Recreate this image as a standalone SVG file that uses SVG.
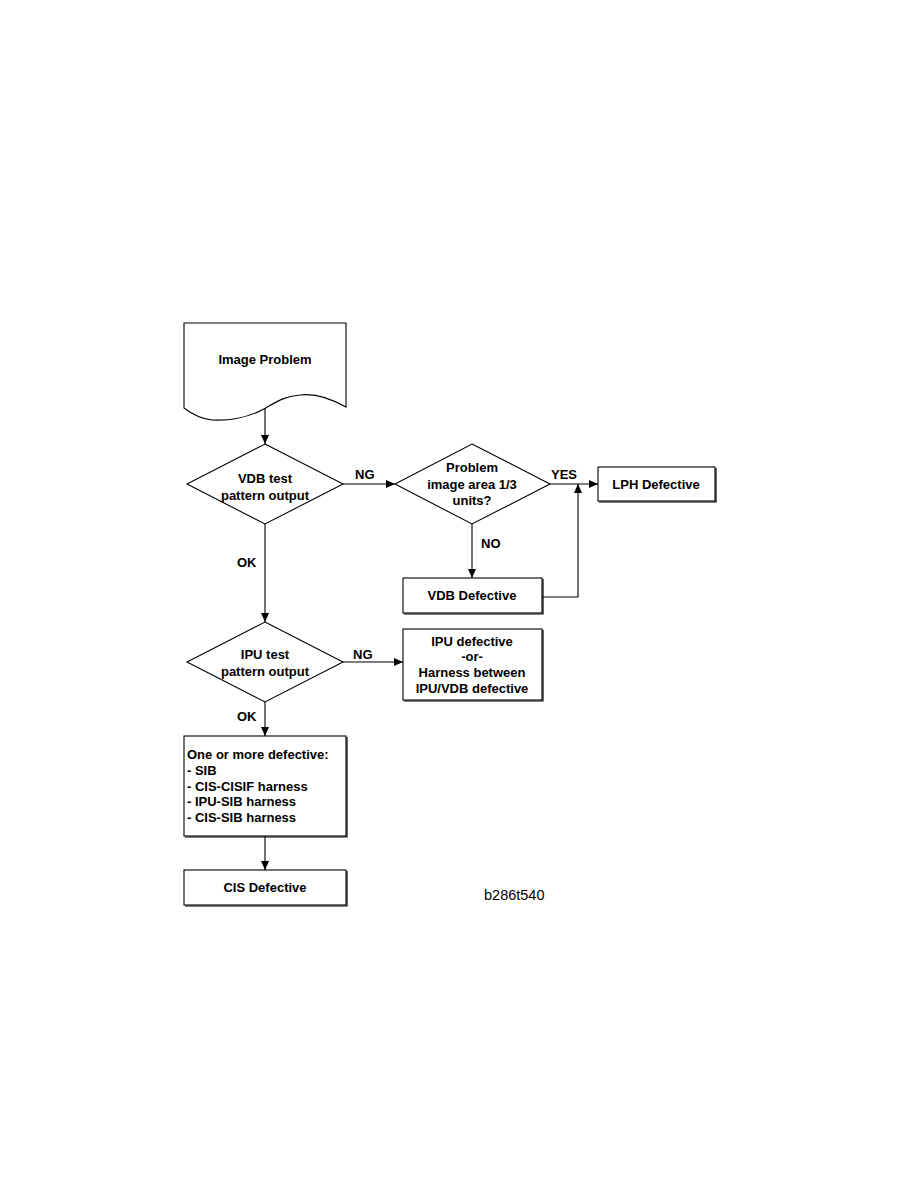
<svg xmlns="http://www.w3.org/2000/svg" width="918" height="1188" viewBox="0 0 918 1188">
<style>
.s{fill:#fff;stroke:#000;stroke-width:1.1}
.sh{fill:none;stroke:#000;stroke-width:1.2}
.c{fill:none;stroke:#000;stroke-width:1.1}
text{font-family:"Liberation Sans",Arial,sans-serif;font-size:13px;font-weight:bold;fill:#000}
.m{text-anchor:middle}
</style>
<defs>
<marker id="a" markerWidth="10" markerHeight="8" refX="9" refY="4" orient="auto" markerUnits="userSpaceOnUse">
<path d="M0,0 L9,4 L0,8 Z" fill="#000"/>
</marker>
</defs>
<rect width="918" height="1188" fill="#fff"/>
<g id="connectors">
<line class="c" x1="265" y1="408" x2="265" y2="444" marker-end="url(#a)"/>
<line class="c" x1="343" y1="484" x2="395" y2="484" marker-end="url(#a)"/>
<line class="c" x1="550" y1="484" x2="598" y2="484" marker-end="url(#a)"/>
<line class="c" x1="472" y1="524" x2="472" y2="578" marker-end="url(#a)"/>
<polyline class="c" points="542,597 578,597 578,484" marker-end="url(#a)"/>
<line class="c" x1="265" y1="524" x2="265" y2="622" marker-end="url(#a)"/>
<line class="c" x1="343" y1="662" x2="403" y2="662" marker-end="url(#a)"/>
<line class="c" x1="265" y1="702" x2="265" y2="736" marker-end="url(#a)"/>
<line class="c" x1="265" y1="836" x2="265" y2="870" marker-end="url(#a)"/>
<text x="355" y="479">NG</text>
<text x="551" y="479">YES</text>
<text x="481" y="548">NO</text>
<text x="237" y="567">OK</text>
<text x="353" y="659">NG</text>
<text x="237" y="721">OK</text>
</g>
<g id="image-problem">
<path class="s" d="M184,323 L346,323 L346,407 C330,398 315,393 300,395 C280,397 272,405 262,410 C248,417 232,421 212,420 C200,419 192,414 184,408 Z"/>
<text class="m" x="265" y="364">Image Problem</text>
</g>
<g id="vdb-test">
<polygon class="s" points="265,444 343,484 265,524 187,484"/>
<text class="m" x="265" y="483">VDB test</text>
<text class="m" x="265" y="500">pattern output</text>
</g>
<g id="problem-area">
<polygon class="s" points="472,444 550,484 472,524 395,484"/>
<text class="m" x="472" y="472">Problem</text>
<text class="m" x="472" y="489">image area 1/3</text>
<text class="m" x="472" y="505">units?</text>
</g>
<g id="lph-defective">
<rect class="s" x="598" y="467" width="117" height="34"/>
<polyline class="sh" points="599,502 716,502 716,468"/>
<text class="m" x="656" y="489">LPH Defective</text>
</g>
<g id="vdb-defective">
<rect class="s" x="403" y="578" width="139" height="35"/>
<polyline class="sh" points="404,614 543,614 543,579"/>
<text class="m" x="472" y="600">VDB Defective</text>
</g>
<g id="ipu-test">
<polygon class="s" points="265,622 343,662 265,702 187,662"/>
<text class="m" x="265" y="659">IPU test</text>
<text class="m" x="265" y="676">pattern output</text>
</g>
<g id="ipu-defective">
<rect class="s" x="403" y="629" width="139" height="71"/>
<polyline class="sh" points="404,701 543,701 543,630"/>
<text class="m" x="472" y="646">IPU defective</text>
<text class="m" x="472" y="661">-or-</text>
<text class="m" x="472" y="677">Harness between</text>
<text class="m" x="472" y="693">IPU/VDB defective</text>
</g>
<g id="one-or-more">
<rect class="s" x="184" y="736" width="162" height="100"/>
<polyline class="sh" points="185,837 347,837 347,737"/>
<text x="187" y="759">One or more defective:</text>
<text x="187" y="775">- SIB</text>
<text x="187" y="791">- CIS-CISIF harness</text>
<text x="187" y="806">- IPU-SIB harness</text>
<text x="187" y="822">- CIS-SIB harness</text>
</g>
<g id="cis-defective">
<rect class="s" x="184" y="870" width="162" height="35"/>
<polyline class="sh" points="185,906 347,906 347,871"/>
<text class="m" x="265" y="892">CIS Defective</text>
</g>
<text x="484" y="900" style="font-weight:normal;font-size:14.5px">b286t540</text>
</svg>
